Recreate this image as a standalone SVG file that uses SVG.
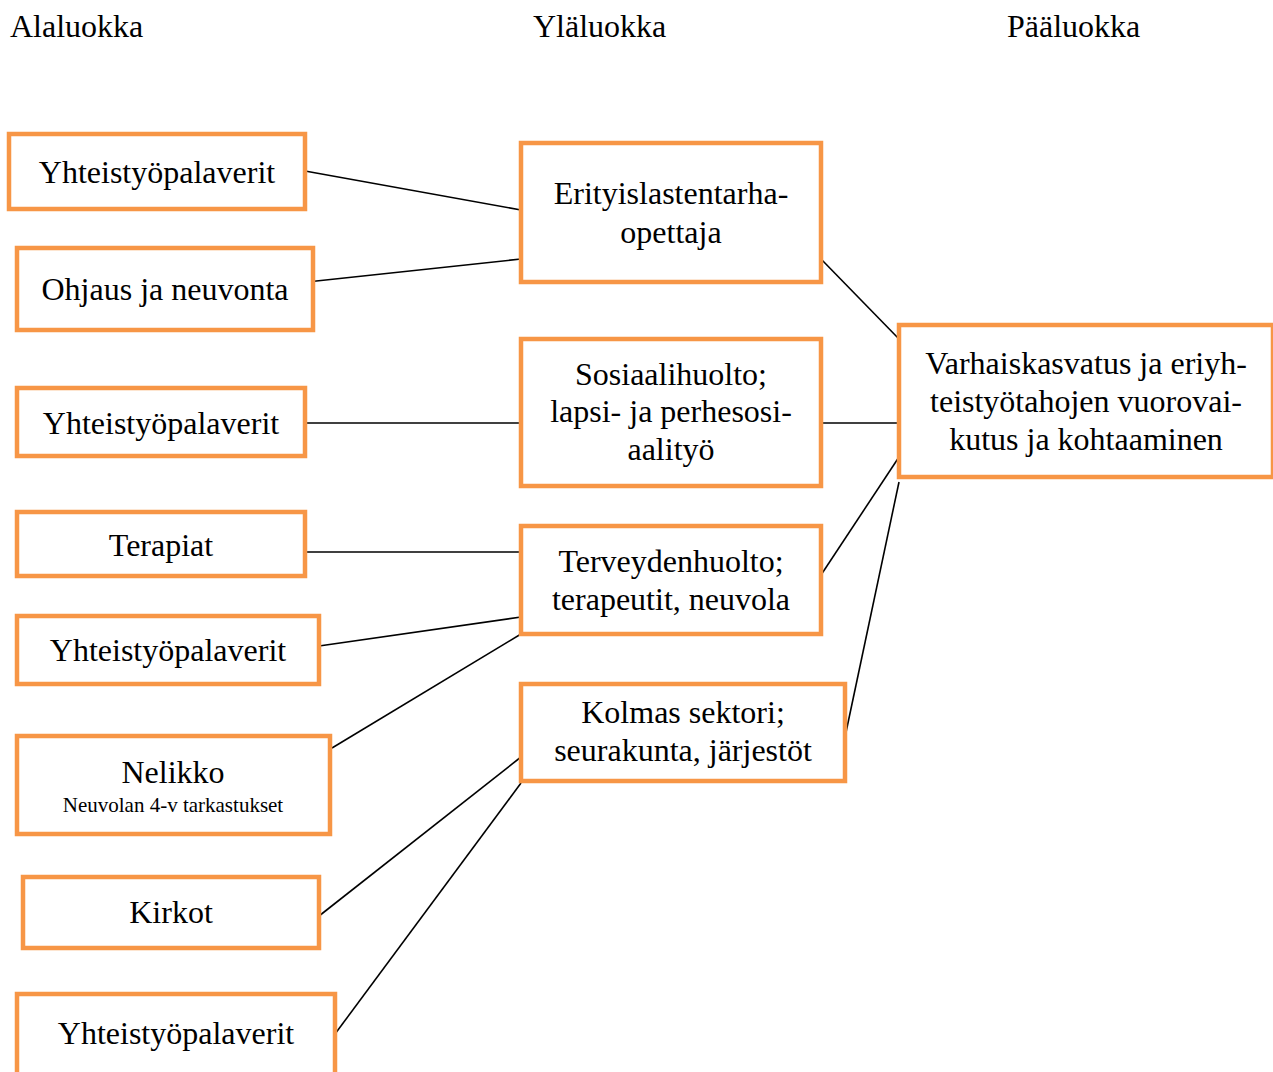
<svg xmlns="http://www.w3.org/2000/svg" width="1273" height="1072" viewBox="0 0 1273 1072">
<style>
.box{fill:#fff;stroke:#F79646;stroke-width:4.5}
text{font-family:"Liberation Serif","Times New Roman",serif;font-size:32px;fill:#000;text-anchor:middle}
.h{text-anchor:start}
.s{font-size:21px}
.c line{stroke:#000;stroke-width:1.6}
</style>
<rect width="1273" height="1072" fill="#fff"/>
<text class="h" x="10" y="37">Alaluokka</text>
<text class="h" x="533" y="37">Yläluokka</text>
<text class="h" x="1007" y="37">Pääluokka</text>
<g class="c" id="connectors">
<line x1="305" y1="171" x2="521" y2="210"/>
<line x1="307" y1="282" x2="521" y2="259"/>
<line x1="821" y1="259" x2="899" y2="339"/>
<line x1="307" y1="423" x2="521" y2="423"/>
<line x1="821" y1="423" x2="899" y2="423"/>
<line x1="307" y1="552" x2="521" y2="552"/>
<line x1="319" y1="646" x2="521" y2="617"/>
<line x1="332" y1="748" x2="521" y2="634"/>
<line x1="821" y1="575" x2="899" y2="457"/>
<line x1="845" y1="737" x2="899" y2="482"/>
<line x1="319" y1="916" x2="521" y2="757"/>
<line x1="335" y1="1034" x2="521" y2="783"/>
</g>
<g id="a1"><rect class="box" x="9" y="134" width="296" height="75"/><text x="157" y="183">Yhteistyöpalaverit</text></g>
<g id="a2"><rect class="box" x="17" y="248" width="296" height="82"/><text x="165" y="300">Ohjaus ja neuvonta</text></g>
<g id="a3"><rect class="box" x="17" y="388" width="288" height="68"/><text x="161" y="434">Yhteistyöpalaverit</text></g>
<g id="a4"><rect class="box" x="17" y="512" width="288" height="64"/><text x="161" y="556">Terapiat</text></g>
<g id="a5"><rect class="box" x="17" y="616" width="302" height="68"/><text x="168" y="661">Yhteistyöpalaverit</text></g>
<g id="a6"><rect class="box" x="17" y="736" width="313" height="98"/><text x="173" y="783">Nelikko</text><text class="s" x="173" y="812">Neuvolan 4-v tarkastukset</text></g>
<g id="a7"><rect class="box" x="23" y="877" width="296" height="71"/><text x="171" y="923">Kirkot</text></g>
<g id="a8"><rect class="box" x="17" y="994" width="318" height="90"/><text x="176" y="1044">Yhteistyöpalaverit</text></g>
<g id="b1"><rect class="box" x="521" y="143" width="300" height="139"/><text x="671" y="204">Erityislastentarha-</text><text x="671" y="243">opettaja</text></g>
<g id="b2"><rect class="box" x="521" y="339" width="300" height="147"/><text x="671" y="385">Sosiaalihuolto;</text><text x="671" y="422">lapsi- ja perhesosi-</text><text x="671" y="460">aalityö</text></g>
<g id="b3"><rect class="box" x="521" y="526" width="300" height="108"/><text x="671" y="572">Terveydenhuolto;</text><text x="671" y="610">terapeutit, neuvola</text></g>
<g id="b4"><rect class="box" x="521" y="684" width="324" height="97"/><text x="683" y="723">Kolmas sektori;</text><text x="683" y="761">seurakunta, järjestöt</text></g>
<g id="c1"><rect class="box" x="899" y="325" width="374" height="152"/><text x="1086" y="374">Varhaiskasvatus ja eriyh-</text><text x="1086" y="412">teistyötahojen vuorovai-</text><text x="1086" y="450">kutus ja kohtaaminen</text></g>
</svg>
